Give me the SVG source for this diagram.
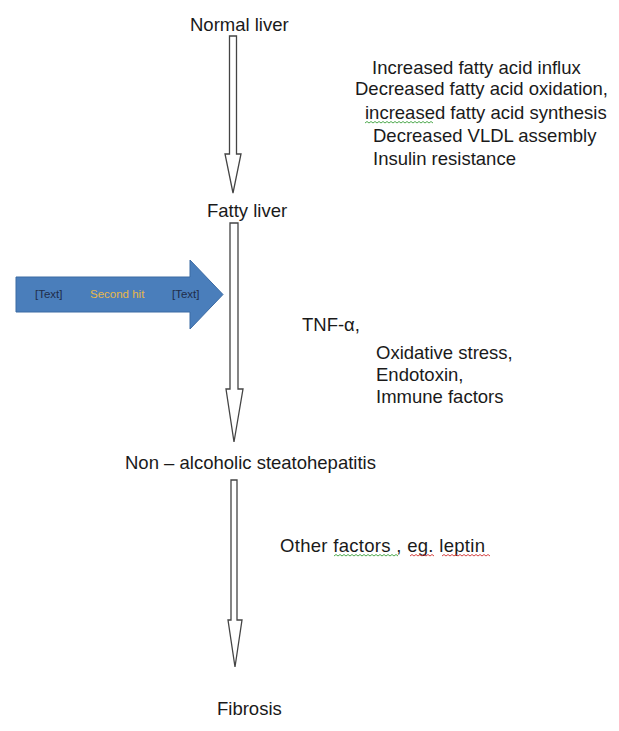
<svg xmlns="http://www.w3.org/2000/svg" width="619" height="731" viewBox="0 0 619 731">
<style>
.t{font-family:"Liberation Sans",Arial,sans-serif;font-size:18.5px;fill:#1a1a1a}
.s{font-family:"Liberation Sans",Arial,sans-serif;font-size:11.5px;fill:#1f2d4a}
.a{fill:#fff;stroke:#444;stroke-width:1.3;stroke-linejoin:miter}
.sq{fill:none;stroke-width:0.9}
</style>
<rect width="619" height="731" fill="#fff"/>
<g id="connectors">
<polygon class="a" points="229.5,36 236.5,36 236.5,154 241,154 233,193 225,154 229.5,154"/>
<polygon class="a" points="230,223 238,223 238,389 243,389 234,442 226,389 230,389"/>
<polygon class="a" points="231,480 237,480 237,620 242,620 235,667 228,620 231,620"/>
</g>
<g id="second-hit">
<polygon points="16,277 190,277 190,260 223,294.5 190,329 190,312 16,312" fill="#4a7ebb" stroke="#3a6aa3" stroke-width="1"/>
<text class="s" x="35" y="298">[Text]</text>
<text class="s" x="90" y="298" style="fill:#e8b84a">Second hit</text>
<text class="s" x="172" y="298">[Text]</text>
</g>
<g id="normal-liver"><text class="t" x="190" y="31">Normal liver</text></g>
<g id="fatty-liver"><text class="t" x="207" y="217">Fatty liver</text></g>
<g id="nash"><text class="t" x="125" y="469">Non – alcoholic steatohepatitis</text></g>
<g id="fibrosis"><text class="t" x="217" y="715">Fibrosis</text></g>
<g id="factors1">
<text class="t" x="372" y="74">Increased fatty acid influx</text>
<text class="t" x="355" y="95">Decreased fatty acid oxidation,</text>
<text class="t" x="365" y="119">increased fatty acid synthesis</text>
<text class="t" x="373" y="142">Decreased VLDL assembly</text>
<text class="t" x="373" y="165">Insulin resistance</text>
<path class="sq" stroke="#3aa03a" d="M365,123 l2,-1.5 l2,1.5 l2,-1.5 l2,1.5 l2,-1.5 l2,1.5 l2,-1.5 l2,1.5 l2,-1.5 l2,1.5 l2,-1.5 l2,1.5 l2,-1.5 l2,1.5 l2,-1.5 l2,1.5 l2,-1.5 l2,1.5 l2,-1.5 l2,1.5 l2,-1.5 l2,1.5 l2,-1.5 l2,1.5 l2,-1.5 l2,1.5 l2,-1.5 l2,1.5 l2,-1.5 l2,1.5 l2,-1.5 l2,1.5 l2,-1.5 l2,1.5"/>
</g>
<g id="factors2">
<text class="t" x="302" y="331">TNF-α,</text>
<text class="t" x="376" y="359">Oxidative stress,</text>
<text class="t" x="376" y="381">Endotoxin,</text>
<text class="t" x="376" y="403">Immune factors</text>
</g>
<g id="factors3">
<text class="t" x="280" y="552" textLength="205" lengthAdjust="spacing">Other factors , eg. leptin</text>
<path class="sq" stroke="#3aa03a" d="M334,556 l2,-1.5 l2,1.5 l2,-1.5 l2,1.5 l2,-1.5 l2,1.5 l2,-1.5 l2,1.5 l2,-1.5 l2,1.5 l2,-1.5 l2,1.5 l2,-1.5 l2,1.5 l2,-1.5 l2,1.5 l2,-1.5 l2,1.5 l2,-1.5 l2,1.5 l2,-1.5 l2,1.5 l2,-1.5 l2,1.5 l2,-1.5 l2,1.5 l2,-1.5 l2,1.5 l2,-1.5 l2,1.5 l2,-1.5 l2,1.5"/>
<path class="sq" stroke="#d03030" d="M410,556 l2,-1.5 l2,1.5 l2,-1.5 l2,1.5 l2,-1.5 l2,1.5 l2,-1.5 l2,1.5 l2,-1.5 l2,1.5 l2,-1.5 l2,1.5"/>
<path class="sq" stroke="#d03030" d="M442,556 l2,-1.5 l2,1.5 l2,-1.5 l2,1.5 l2,-1.5 l2,1.5 l2,-1.5 l2,1.5 l2,-1.5 l2,1.5 l2,-1.5 l2,1.5 l2,-1.5 l2,1.5 l2,-1.5 l2,1.5 l2,-1.5 l2,1.5 l2,-1.5 l2,1.5 l2,-1.5 l2,1.5 l2,-1.5 l2,1.5"/>
</g>
</svg>
